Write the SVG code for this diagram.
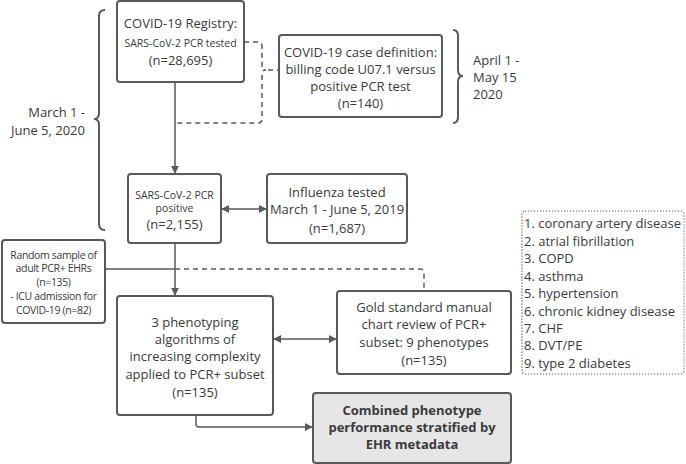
<svg xmlns="http://www.w3.org/2000/svg" width="686" height="464" viewBox="0 0 686 464">
<defs>
<marker id="ah" viewBox="0 0 10 10" refX="9" refY="5" markerWidth="8" markerHeight="8" markerUnits="userSpaceOnUse" orient="auto-start-reverse">
<path d="M0,0 L10,5 L0,10 z" fill="#595959"/>
</marker>
<style>
.box{fill:#fff;stroke:#595959;stroke-width:2}
.gray{fill:#e6e6e6;stroke:#595959;stroke-width:2}
.t{font-family:"Open Sans","Liberation Sans",sans-serif;font-size:13px;fill:#3a3a3a;text-anchor:middle}
.s{font-size:10.5px}
.b{font-weight:bold}
.l{text-anchor:start}
.r{text-anchor:end}
.ln{fill:none;stroke:#595959;stroke-width:1.5}
.ds{stroke-dasharray:5 4}
.br{fill:none;stroke:#595959;stroke-width:2}
.dot{fill:none;stroke:#595959;stroke-width:1.2;stroke-dasharray:1.2 1.8}
</style>
</defs>
<rect width="686" height="464" fill="#fff"/>

<g id="connectors">
<line class="ln" x1="175" y1="82" x2="175" y2="173" marker-end="url(#ah)"/>
<line class="ln" x1="175" y1="243" x2="175" y2="295" marker-end="url(#ah)"/>
<line class="ln" x1="222" y1="209" x2="266" y2="209" marker-start="url(#ah)" marker-end="url(#ah)"/>
<line class="ln" x1="274" y1="339" x2="336" y2="339" marker-start="url(#ah)" marker-end="url(#ah)"/>
<path class="ln" d="M196,415 V424 Q196,427 199,427 H312" marker-end="url(#ah)"/>
<line class="ln" x1="105" y1="269" x2="175" y2="269"/>
<path class="ln ds" d="M175,269 H420 Q424,269 424,273 V291"/>
<path class="ln ds" d="M244,42 H258 Q262,42 262,46 V66 Q262,70 266,70 Q262,70 262,74 V119 Q262,123 258,123 H175"/>
<line class="ln ds" x1="268" y1="70" x2="279" y2="70"/>
</g>

<g id="brace-left">
<path class="br" d="M105,10 Q99,10 99,16 V113 Q99,119 94,119 Q99,119 99,125 V224 Q99,230 105,230"/>
<text class="t r" x="85" y="117">March 1 -</text>
<text class="t r" x="85" y="135">June 5, 2020</text>
</g>

<g id="brace-right">
<path class="br" d="M453,30 Q458,30 458,36 V70 Q458,76 463,76 Q458,76 458,82 V117 Q458,123 453,123"/>
<text class="t l" x="473" y="65">April 1 -</text>
<text class="t l" x="473" y="82">May 15</text>
<text class="t l" x="473" y="99">2020</text>
</g>

<g id="registry">
<rect class="box" x="117" y="1" width="127" height="81" rx="3"/>
<text class="t" x="180.5" y="28">COVID-19 Registry:</text>
<text class="t s" x="180.5" y="47">SARS-CoV-2 PCR tested</text>
<text class="t" x="180.5" y="65">(n=28,695)</text>
</g>

<g id="case-definition">
<rect class="box" x="279" y="35" width="163" height="82" rx="3"/>
<text class="t" x="360.5" y="57">COVID-19 case definition:</text>
<text class="t" x="360.5" y="74">billing code U07.1 versus</text>
<text class="t" x="360.5" y="91">positive PCR test</text>
<text class="t" x="360.5" y="108">(n=140)</text>
</g>

<g id="pcr-positive">
<rect class="box" x="128" y="174" width="93" height="69" rx="3"/>
<text class="t s" x="174.5" y="199">SARS-CoV-2 PCR</text>
<text class="t s" x="174.5" y="212">positive</text>
<text class="t" x="174.5" y="229">(n=2,155)</text>
</g>

<g id="influenza">
<rect class="box" x="267" y="174" width="140" height="69" rx="3"/>
<text class="t" x="337" y="197">Influenza tested</text>
<text class="t" x="337" y="214">March 1 - June 5, 2019</text>
<text class="t" x="337" y="233">(n=1,687)</text>
</g>

<g id="random-sample">
<rect class="box" x="2" y="240" width="103" height="83" rx="3"/>
<text class="t s" x="53.5" y="259" letter-spacing="-0.35">Random sample of</text>
<text class="t s" x="53.5" y="272" letter-spacing="-0.35">adult PCR+ EHRs</text>
<text class="t s" x="53.5" y="286" letter-spacing="-0.35">(n=135)</text>
<text class="t s" x="53.5" y="300" letter-spacing="-0.35">- ICU admission for</text>
<text class="t s" x="53.5" y="314" letter-spacing="-0.35">COVID-19 (n=82)</text>
</g>

<g id="algorithms">
<rect class="box" x="117" y="296" width="156" height="119" rx="3"/>
<text class="t" x="195" y="327">3 phenotyping</text>
<text class="t" x="195" y="344">algorithms of</text>
<text class="t" x="195" y="361">increasing complexity</text>
<text class="t" x="195" y="379">applied to PCR+ subset</text>
<text class="t" x="195" y="397">(n=135)</text>
</g>

<g id="gold-standard">
<rect class="box" x="337" y="291" width="174" height="83" rx="3"/>
<text class="t" x="424" y="312">Gold standard manual</text>
<text class="t" x="424" y="329">chart review of PCR+</text>
<text class="t" x="424" y="347">subset: 9 phenotypes</text>
<text class="t" x="424" y="365">(n=135)</text>
</g>

<g id="combined">
<rect class="gray" x="313" y="393" width="198" height="70" rx="3"/>
<text class="t b" x="412" y="415">Combined phenotype</text>
<text class="t b" x="412" y="432">performance stratified by</text>
<text class="t b" x="412" y="449">EHR metadata</text>
</g>

<g id="phenotype-list">
<rect class="dot" x="522" y="211" width="162" height="163" rx="3"/>
<text class="t l" x="524" y="228">1. coronary artery disease</text>
<text class="t l" x="524" y="246">2. atrial fibrillation</text>
<text class="t l" x="524" y="263">3. COPD</text>
<text class="t l" x="524" y="281">4. asthma</text>
<text class="t l" x="524" y="298">5. hypertension</text>
<text class="t l" x="524" y="316">6. chronic kidney disease</text>
<text class="t l" x="524" y="333">7. CHF</text>
<text class="t l" x="524" y="350">8. DVT/PE</text>
<text class="t l" x="524" y="368">9. type 2 diabetes</text>
</g>
</svg>
